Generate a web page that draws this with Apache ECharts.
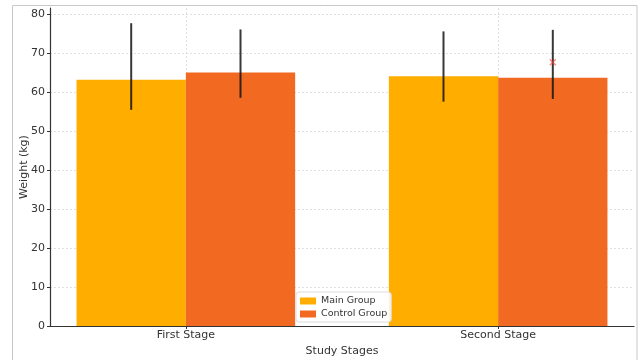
<!DOCTYPE html>
<html>
<head>
<meta charset="utf-8">
<script src="https://cdn.jsdelivr.net/npm/echarts@6/dist/echarts.min.js"></script>
<style>
  html, body { margin: 0; padding: 0; background: #fff; }
  #chart { width: 642px; height: 360px; }
</style>
</head>
<body>
<div id="chart"></div>
<script>
// Study data: mean weight per stage with asymmetric error ranges
const stages = ['First Stage', 'Second Stage'];
const groups = ['Main Group', 'Control Group'];
const mainMeans = [63.1, 64.0];
const mainLow = [55.4, 57.5];
const mainHigh = [77.6, 75.5];
const controlMeans = [65.0, 63.6];
const controlLow = [58.5, 58.2];
const controlHigh = [76.0, 75.9];
// flagged point (stage index, group index, value)
const flagged = [[1, 1, 67.6]];
const yTicks = [0, 10, 20, 30, 40, 50, 60, 70, 80];

const BAR_W = 0.35;
const colors = ['#FFAE00', '#F26A21'];
const font = 'DejaVu Sans, sans-serif';

function offsetFor(g) { return g === 0 ? -BAR_W / 2 : BAR_W / 2; }

function barData(means, g) {
  return means.map((v, i) => [i + offsetFor(g), v]);
}
function errData(low, high, g) {
  return low.map((lo, i) => [i + offsetFor(g), lo, high[i]]);
}

function renderBar(params, api) {
  const x = api.value(0), y = api.value(1);
  const a = api.coord([x - BAR_W / 2, y]);
  const b = api.coord([x + BAR_W / 2, 0]);
  return {
    type: 'rect',
    shape: { x: a[0], y: a[1], width: b[0] - a[0], height: b[1] - a[1] },
    style: { fill: api.visual('color') }
  };
}
function renderErr(params, api) {
  const x = api.value(0);
  const a = api.coord([x, api.value(1)]);
  const b = api.coord([x, api.value(2)]);
  return {
    type: 'line',
    shape: { x1: a[0], y1: a[1], x2: b[0], y2: b[1] },
    style: { stroke: 'rgba(20,20,20,0.85)', lineWidth: 2 }
  };
}

const chart = echarts.init(document.getElementById('chart'), null, { renderer: 'canvas' });
chart.setOption({
  animation: false,
  backgroundColor: '#fff',
  textStyle: { fontFamily: font },
  graphic: [{
    type: 'rect', silent: true, z: -10,
    shape: { x: 12.5, y: 5.5, width: 624.5, height: 370 },
    style: { fill: 'none', stroke: '#c8c8c8', lineWidth: 1 }
  }],
  grid: { left: 50, right: 8, top: 8, bottom: 34, containLabel: false, outerBoundsMode: 'none' },
  xAxis: {
    type: 'value', min: -0.435, max: 1.435,
    name: 'Study Stages', nameLocation: 'middle', nameGap: 16,
    nameTextStyle: { fontSize: 11, color: '#333', fontFamily: font },
    axisLine: { show: true, onZero: false, lineStyle: { color: '#333', width: 1.2 } },
    axisTick: { show: true, customValues: [0, 1], length: 3, lineStyle: { color: '#333' } },
    axisLabel: {
      customValues: [0, 1], fontSize: 11, color: '#333', margin: 4, fontFamily: font,
      formatter: v => stages[Math.round(v)]
    },
    splitLine: { show: true, lineStyle: { color: '#d8d8d8', type: [2, 2], width: 0.8 } }
  },
  yAxis: {
    type: 'value', min: 0, max: 81.5,
    name: 'Weight (kg)', nameLocation: 'middle', nameGap: 20, nameMoveOverlap: false,
    nameTextStyle: { fontSize: 11, color: '#333', fontFamily: font },
    axisLine: { show: true, onZero: false, lineStyle: { color: '#333', width: 1.2 } },
    axisTick: { show: true, customValues: yTicks, length: 3, lineStyle: { color: '#333' } },
    axisLabel: { customValues: yTicks, fontSize: 11, color: '#333', margin: 5, fontFamily: font },
    splitLine: { show: true, lineStyle: { color: '#d8d8d8', type: [2, 2], width: 0.8 } }
  },
  legend: {
    data: groups, orient: 'vertical', left: 296, top: 292,
    padding: [4, 4, 3, 4], itemGap: 3, itemWidth: 16, itemHeight: 7,
    backgroundColor: 'rgba(255,255,255,0.85)', borderColor: '#dcdcdc', borderWidth: 1, borderRadius: 3,
    textStyle: { fontSize: 9.5, color: '#333', fontFamily: font },
    icon: 'rect'
  },
  series: [
    { name: groups[0], type: 'custom', renderItem: renderBar, itemStyle: { color: colors[0] },
      data: barData(mainMeans, 0), encode: { x: 0, y: 1 }, z: 2 },
    { name: groups[1], type: 'custom', renderItem: renderBar, itemStyle: { color: colors[1] },
      data: barData(controlMeans, 1), encode: { x: 0, y: 1 }, z: 2 },
    { type: 'custom', renderItem: renderErr, silent: true, z: 3,
      data: errData(mainLow, mainHigh, 0).concat(errData(controlLow, controlHigh, 1)),
      encode: { x: 0, y: [1, 2] } },
    { type: 'scatter', silent: true, z: 4,
      symbol: 'path://M0,0 L10,10 M10,0 L0,10 M0,0 L10,10',
      symbolSize: 6,
      itemStyle: { color: 'none', borderColor: 'rgba(255,60,60,0.75)', borderWidth: 1.6 },
      data: flagged.map(f => [f[0] + offsetFor(f[1]), f[2]]) }
  ]
});
</script>
</body>
</html>
